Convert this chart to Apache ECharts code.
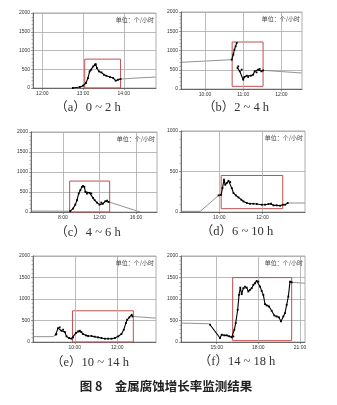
<!DOCTYPE html>
<html><head><meta charset="utf-8">
<script src="https://cdn.jsdelivr.net/npm/echarts@6/dist/echarts.min.js"></script>
<style>html,body{margin:0;padding:0;background:#fff}#c{width:337px;height:405px}</style>
</head><body><div id="c"></div><script>
// ---------- DATA ----------
const unitText = '单位：个/小时';
const figureTitle = '图 8　金属腐蚀增长率监测结果';
const captions = ['（a）0 ~ 2 h', '（b）2 ~ 4 h', '（c）4 ~ 6 h', '（d）6 ~ 10 h', '（e）10 ~ 14 h', '（f）14 ~ 18 h'];

// (a)
const aTicks = [12, 13, 14];
const aTickLabels = ['12:00', '13:00', '14:00'];
const aRange = [11.77, 14.79];
const aYMax = 2000;
const aPre = [];
const aMain = [[12.75,0],[12.92,27],[13.0,62],[13.07,133],[13.12,265],[13.16,442],[13.2,487],[13.25,575],[13.29,620],[13.31,637],[13.34,531],[13.39,442],[13.45,416],[13.51,354],[13.57,327],[13.66,292],[13.74,265],[13.8,195],[13.86,221],[13.92,239]];
const aPost = [[13.92,239],[14.3,265],[14.78,292]];
const aBox = [13.04, 13.92, 0, 770];

// (b)
const bTicks = [10, 11, 12];
const bTickLabels = ['10:00', '11:00', '12:00'];
const bRange = [9.37, 12.54];
const bYMax = 2000;
const bPre = [[9.37,693],[10.70,762]];
const bMain = [[10.70,762],[10.74,892],[10.77,1022],[10.80,1108],[10.83,1195],['-','-'],[10.85,545],[10.87,589],[10.91,459],[10.96,502],[11.0,242],[11.03,312],[11.09,346],[11.13,312],[11.2,346],[11.26,372],[11.3,459],[11.35,433],[11.39,502],[11.43,520],[11.48,459],[11.52,485]];
const bPost = [[11.52,485],[12.53,416]];
const bBox = [10.71, 11.52, 69, 1221];

// (c)
const cTicks = [8, 12, 16];
const cTickLabels = ['8:00', '12:00', '16:00'];
const cRange = [4.5, 18.29];
const cYMax = 2000;
const cPre = [[4.5,25],[8.8,20]];
const cMain = [[8.8,20],[9.09,84],[9.35,185],[9.53,294],[9.72,462],[9.9,546],[10.08,630],[10.19,655],[10.34,630],[10.45,504],[10.63,462],[10.92,479],[11.1,462],[11.28,353],[11.47,294],[11.72,235],[12.0,185],[12.2,235],[12.38,210],[12.64,269],[12.82,286],[13.0,252]];
const cPost = [[13.0,252],[16.47,0]];
const cBox = [8.73, 13.11, 0, 773];

// (d)
const dTicks = [10, 12];
const dTickLabels = ['10:00', '12:00'];
const dRange = [8.23, 13.97];
const dYMax = 1000;
const dPre = [[8.23,8],[9.12,8],[9.97,205]];
const dMain = [[9.97,205],[10.09,213],[10.15,295],[10.22,398],[10.28,336],[10.35,357],[10.43,385],[10.51,369],[10.58,295],[10.66,234],[10.77,205],[10.89,180],[11.02,152],[11.12,131],[11.28,111],[11.43,102],[11.58,102],[11.74,98],[11.97,90],[12.12,90],[12.28,98],[12.4,102],[12.51,82],[12.66,82],[12.82,78],[12.94,90],[13.05,90],[13.17,111]];
const dPost = [[13.17,111],[13.96,111]];
const dBox = [10.09, 12.94, 41, 451];

// (e)
const eTicks = [10, 12];
const eTickLabels = ['10:00', '12:00'];
const eRange = [8.03, 13.83];
const eYMax = 2000;
const ePre = [[8.03,124],[8.98,124],[9.1,170]];
const eMain = [[9.1,170],[9.13,185],[9.21,324],[9.29,340],[9.37,262],[9.45,286],[9.53,232],[9.61,131],[9.73,93],[9.84,77],[9.92,108],[10.05,208],[10.16,247],[10.24,262],[10.31,232],[10.39,185],[10.52,154],[10.63,139],[10.79,139],[10.94,124],[11.1,108],[11.26,93],[11.42,77],[11.57,77],[11.73,77],[11.89,93],[12.05,131],[12.2,185],[12.31,286],[12.41,440],[12.47,517],[12.57,571],[12.68,633],[12.72,594]];
const ePost = [[12.72,594],[13.82,556]];
const eBox = [9.89, 12.76, 0, 726];

// (f)
const fTicks = [15, 18, 21];
const fTickLabels = ['15:00', '18:00', '21:00'];
const fRange = [12.43, 21.36];
const fYMax = 2000;
const fPre = [[12.43,440],[14.4,425],[14.52,402]];
const fMain = [[14.52,402],[15.24,93],[15.36,170],[15.55,154],[15.72,154],[15.91,131],[16.08,108],[16.2,131],[16.27,286],[16.37,440],[16.51,749],[16.61,1096],[16.7,1266],[16.8,1112],[16.92,1251],[17.04,1289],[17.16,1266],[17.28,1174],[17.4,1212],[17.52,1251],[17.64,1328],[17.76,1366],[17.88,1420],[18.0,1405],[18.12,1289],[18.24,1189],[18.36,1096],[18.48,880],[18.6,849],[18.77,826],[18.96,726],[19.15,617],[19.32,594],[19.49,571],[19.63,479],[19.8,594],[19.92,672],[20.04,865],[20.16,1058],[20.28,1405],[20.4,1389]];
const fPost = [[20.4,1389],[21.35,1366]];
const fBox = [16.15, 20.4, 31, 1498];

// ---------- LAYOUT ----------
const panels = [
  {ticks:aTicks, labels:aTickLabels, range:aRange, ymax:aYMax, pre:aPre, main:aMain, post:aPost, box:aBox},
  {ticks:bTicks, labels:bTickLabels, range:bRange, ymax:bYMax, pre:bPre, main:bMain, post:bPost, box:bBox},
  {ticks:cTicks, labels:cTickLabels, range:cRange, ymax:cYMax, pre:cPre, main:cMain, post:cPost, box:cBox},
  {ticks:dTicks, labels:dTickLabels, range:dRange, ymax:dYMax, pre:dPre, main:dMain, post:dPost, box:dBox},
  {ticks:eTicks, labels:eTickLabels, range:eRange, ymax:eYMax, pre:ePre, main:eMain, post:ePost, box:eBox},
  {ticks:fTicks, labels:fTickLabels, range:fRange, ymax:fYMax, pre:fPre, main:fMain, post:fPost, box:fBox}
];
const gridPos = [
  {left:33, top:13, width:123, height:75},
  {left:181, top:12, width:121, height:77},
  {left:31, top:132, width:126, height:80},
  {left:181, top:131, width:124, height:81},
  {left:33, top:256, width:123, height:86},
  {left:181, top:256, width:124, height:86}
];
const captionPos = [[88,108],[236,108],[88,233],[237,232],[90,363],[237,362]];

const chart = echarts.init(document.getElementById('c'), null, {renderer:'canvas'});
const grids = [], xAxes = [], yAxes = [], series = [], graphics = [];
const axisFont = {fontSize:5, color:'#333', fontFamily:'Liberation Sans'};

panels.forEach((p, i) => {
  const g = gridPos[i];
  grids.push(Object.assign({show:true, borderColor:'#999', borderWidth:0.8, backgroundColor:'#fff', containLabel:false}, g));
  xAxes.push({
    type:'value', gridIndex:i, min:p.range[0], max:p.range[1],
    axisLine:{show:true, lineStyle:{color:'#555', width:0.8}},
    axisTick:{show:true, length:2, customValues:p.ticks, lineStyle:{color:'#555', width:0.6}},
    splitLine:{show:false},
    axisLabel:Object.assign({customValues:p.ticks, margin:3,
      formatter: v => { const k = p.ticks.findIndex(t => Math.abs(t - v) < 1e-6); return k >= 0 ? p.labels[k] : ''; }}, axisFont)
  });
  yAxes.push({
    type:'value', gridIndex:i, min:0, max:p.ymax, interval:500,
    axisLine:{show:true, lineStyle:{color:'#555', width:0.8}},
    axisTick:{show:true, length:2, lineStyle:{color:'#555', width:0.6}},
    minorTick:{show:true, splitNumber:5, length:1.5, lineStyle:{color:'#777', width:0.5}},
    splitLine:{show:true, lineStyle:{color:'#aaa', width:0.8}},
    axisLabel:Object.assign({margin:3, formatter: v => String(v)}, axisFont)
  });
  series.push({
    type:'line', xAxisIndex:i, yAxisIndex:i, data:p.pre, symbol:'none', silent:true,
    lineStyle:{color:'#777', width:0.8}, z:3,
    markLine:{silent:true, symbol:'none', label:{show:false},
      lineStyle:{color:'#aaa', width:0.8, type:'solid'},
      data:p.ticks.map(t => ({xAxis:t}))}
  });
  series.push({
    type:'line', xAxisIndex:i, yAxisIndex:i, data:p.post, symbol:'none', silent:true,
    lineStyle:{color:'#777', width:0.8}, z:3
  });
  series.push({
    type:'line', xAxisIndex:i, yAxisIndex:i, data:p.main, connectNulls:false,
    symbol:'rect', symbolSize:1.8, showSymbol:true, silent:true,
    itemStyle:{color:'#000'}, lineStyle:{color:'#000', width:1.1}, z:5,
    markArea:{silent:true, itemStyle:{color:'rgba(0,0,0,0)', borderColor:'#c0504d', borderWidth:1},
      data:[[{xAxis:p.box[0], yAxis:p.box[2]}, {xAxis:p.box[1], yAxis:p.box[3]}]]}
  });
  graphics.push({type:'text', right:337 - (g.left + g.width) + 2, top:g.top + 4,
    style:{text:unitText, fontSize:6, fill:'#444', fontFamily:'Noto Sans CJK SC'}, z:10});
  graphics.push({type:'text', x:captionPos[i][0], y:captionPos[i][1],
    style:{text:captions[i], fontSize:12.5, fill:'#333', fontFamily:'Liberation Serif, Noto Sans CJK SC',
      align:'center', verticalAlign:'middle'}, z:10});
});
graphics.push({type:'text', x:166, y:386,
  style:{text:figureTitle, fontSize:12.5, fill:'#222', fontWeight:'bold', fontFamily:'Noto Sans CJK SC',
    align:'center', verticalAlign:'middle'}, z:10});

chart.setOption({
  animation:false, backgroundColor:'#fff',
  grid:grids, xAxis:xAxes, yAxis:yAxes, series:series, graphic:graphics
});
</script></body></html>
